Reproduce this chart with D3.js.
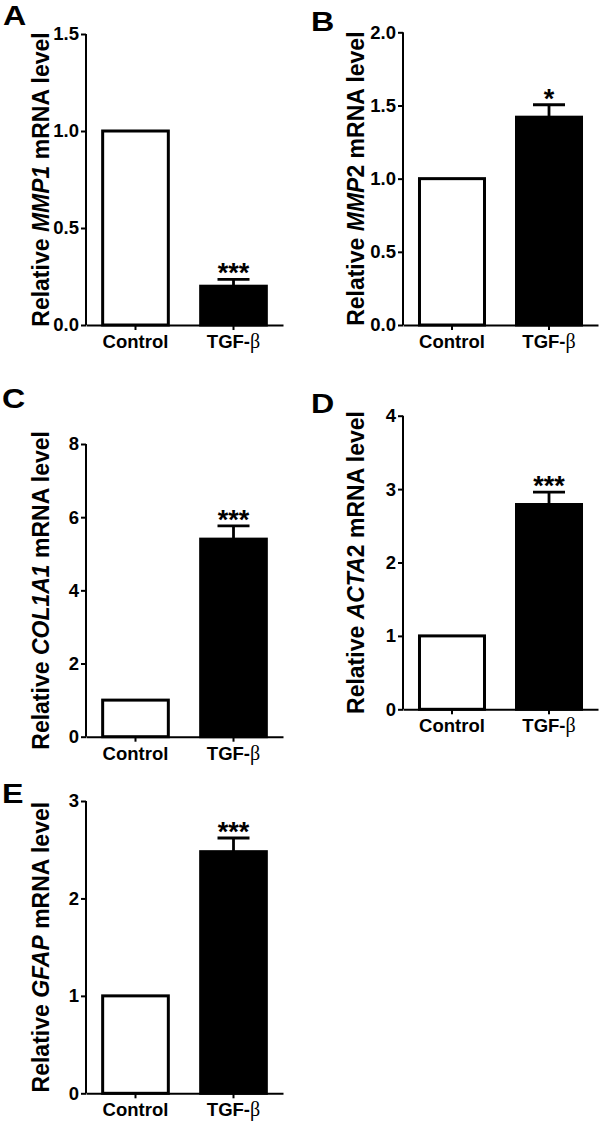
<!DOCTYPE html>
<html>
<head>
<meta charset="utf-8">
<script src="https://cdn.jsdelivr.net/npm/d3@7"></script>
<style>
  html, body { margin: 0; padding: 0; background: #fff; }
  svg text { font-family: "Liberation Sans", Arial, "DejaVu Sans", sans-serif; font-weight: bold; fill: #000; }
</style>
</head>
<body>
<svg id="chart" width="600" height="1122"></svg>
<script>
// ---- data ----
const categories = ["Control", "TGF-\u03b2"];
const panelLetters = ["A", "B", "C", "D", "E"];
const geneNames = [["MMP1", ""], ["MMP", "2"], ["COL1A1", ""], ["ACTA", "2"], ["GFAP", ""]];
const controlValues = [1, 1, 1, 1, 1];
const tgfValues = [0.20, 1.42, 5.40, 2.79, 2.48];
const tgfErrors = [0.035, 0.085, 0.36, 0.17, 0.14];
const significance = ["***", "*", "***", "***", "***"];
const yMax = [1.5, 2, 8, 4, 3];
const yTicks = [[0, 0.5, 1.0, 1.5], [0, 0.5, 1.0, 1.5, 2.0], [0, 2, 4, 6, 8], [0, 1, 2, 3, 4], [0, 1, 2, 3]];
const tickFormats = [".1f", ".1f", "d", "d", "d"];

// ---- layout (positions only) ----
const layout = [
  { x0: 86,  x1: 283, yBottom: 325,   yTop: 34,    letterX: 3,   letterY: 25,  titleX: 41 },
  { x0: 403, x1: 598, yBottom: 325,   yTop: 32.3,  letterX: 311, letterY: 31,  titleX: 356 },
  { x0: 86,  x1: 283, yBottom: 736.7, yTop: 444,   letterX: 2,   letterY: 408, titleX: 41 },
  { x0: 403, x1: 598, yBottom: 709.3, yTop: 415.7, letterX: 311, letterY: 413, titleX: 356 },
  { x0: 86,  x1: 283, yBottom: 1093.3,yTop: 801,   letterX: 2,   letterY: 803, titleX: 41 }
];

const svg = d3.select("#chart");

layout.forEach((L, i) => {
  const g = svg.append("g");
  const x = d3.scaleBand().domain(categories).range([L.x0, L.x1]).paddingInner(0.33).paddingOuter(0.17);
  const y = d3.scaleLinear().domain([0, yMax[i]]).range([L.yBottom, L.yTop]);

  const vals = [controlValues[i], tgfValues[i]];

  // bars
  g.selectAll("rect.bar").data(categories).enter().append("rect")
    .attr("x", d => x(d))
    .attr("width", x.bandwidth())
    .attr("y", (d, j) => y(vals[j]))
    .attr("height", (d, j) => y(0) - y(vals[j]))
    .attr("fill", (d, j) => j === 0 ? "#fff" : "#000")
    .attr("stroke", "#000")
    .attr("stroke-width", 3);

  // error bar on TGF bar (upward only)
  const cx = x(categories[1]) + x.bandwidth() / 2;
  const errTop = y(tgfValues[i] + tgfErrors[i]);
  g.append("line").attr("x1", cx).attr("x2", cx)
    .attr("y1", y(tgfValues[i])).attr("y2", errTop)
    .attr("stroke", "#000").attr("stroke-width", 2.8);
  g.append("line").attr("x1", cx - 16).attr("x2", cx + 16)
    .attr("y1", errTop).attr("y2", errTop)
    .attr("stroke", "#000").attr("stroke-width", 2.8);

  // significance
  g.append("text").attr("x", cx).attr("y", errTop + 3)
    .attr("text-anchor", "middle").style("font-size", "27px")
    .text(significance[i]);

  // y axis
  const yAxis = d3.axisLeft(y).tickValues(yTicks[i]).tickFormat(d3.format(tickFormats[i]))
    .tickSize(5).tickPadding(2);
  const ya = g.append("g").attr("transform", `translate(${L.x0},0)`).call(yAxis);
  ya.select(".domain").attr("stroke-width", 2).attr("d", `M0,${L.yTop}V${L.yBottom}`);
  ya.selectAll(".tick line").attr("stroke-width", 2);
  ya.selectAll(".tick text").style("font-size", "18.5px").attr("font-family", null);

  // x axis
  const xAxis = d3.axisBottom(x).tickSize(5).tickPadding(5).tickSizeOuter(0);
  const xa = g.append("g").attr("transform", `translate(0,${L.yBottom})`).call(xAxis);
  xa.select(".domain").attr("stroke-width", 2);
  xa.selectAll(".tick line").attr("stroke-width", 2);
  xa.selectAll(".tick text").style("font-size", "18.5px").attr("font-family", null)
    .each(function(d) {
      const el = d3.select(this);
      if (d.indexOf("\u03b2") >= 0) {
        el.text(null);
        el.append("tspan").text(d.replace("\u03b2", ""));
        el.append("tspan").style("font-family", "'Liberation Serif', 'DejaVu Serif', serif")
          .style("font-weight", "normal").style("font-size", "20px").text("\u03b2");
      }
    });

  // y axis title
  const cy = (L.yTop + L.yBottom) / 2;
  const t = g.append("text")
    .attr("transform", `translate(${L.titleX},${cy}) rotate(-90)`)
    .attr("text-anchor", "middle").attr("dy", "0.36em")
    .style("font-size", "23px");
  t.append("tspan").text("Relative ");
  t.append("tspan").style("font-style", "italic").text(geneNames[i][0]);
  if (geneNames[i][1]) t.append("tspan").text(geneNames[i][1]);
  t.append("tspan").text(" mRNA level");

  // panel letter
  g.append("text")
    .attr("transform", `translate(${L.letterX},${L.letterY}) scale(1.15,1)`)
    .style("font-size", "28px")
    .text(panelLetters[i]);
});
</script>
</body>
</html>
